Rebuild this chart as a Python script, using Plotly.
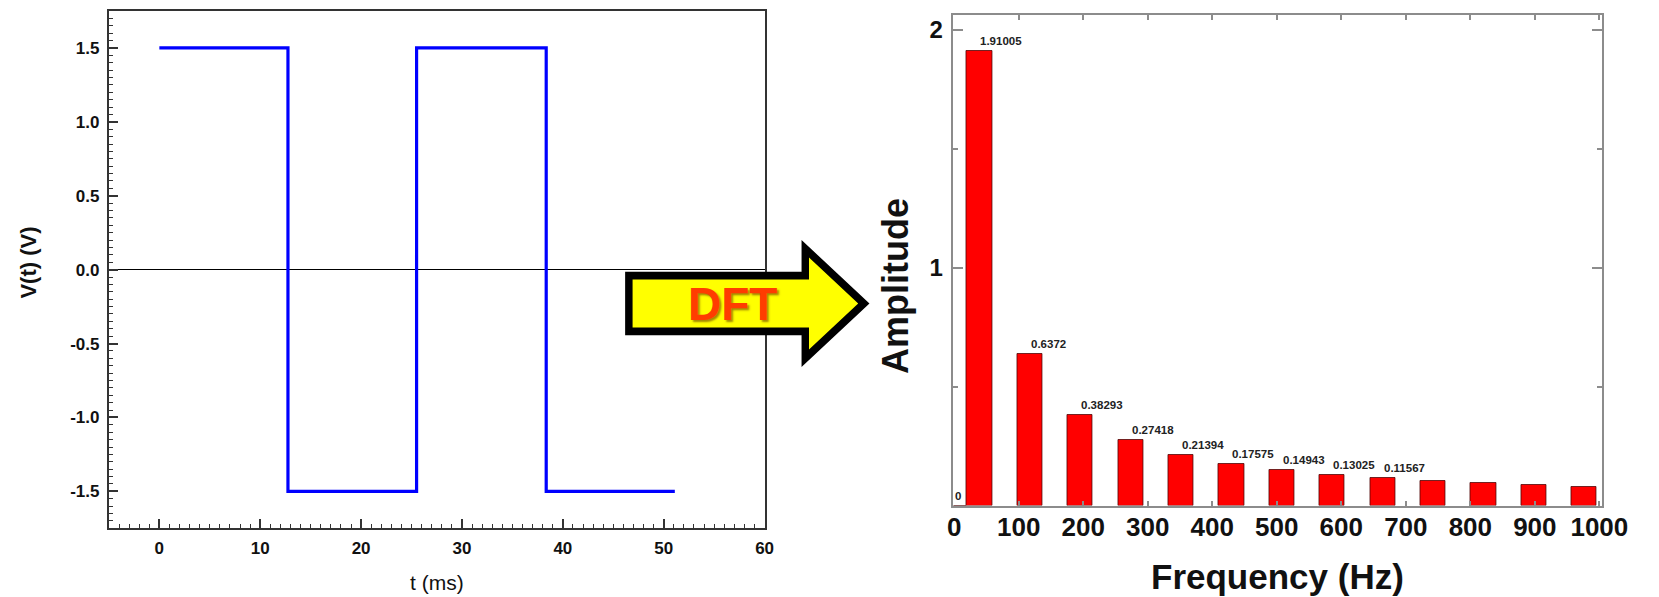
import plotly.graph_objects as go

W, H = 1659, 597

# ---------------- data: time-domain square wave ----------------
t_ms = [0, 12.75, 12.75, 25.5, 25.5, 38.35, 38.35, 51.1]
v_volts = [1.5, 1.5, -1.5, -1.5, 1.5, 1.5, -1.5, -1.5]
t_tickvals = [0, 10, 20, 30, 40, 50, 60]
v_tickvals = [-1.5, -1.0, -0.5, 0.0, 0.5, 1.0, 1.5]
v_ticktext = ["-1.5", "-1.0", "-0.5", "0.0", "0.5", "1.0", "1.5"]

# ---------------- data: DFT spectrum ----------------
freq_hz = [0, 39.06, 117.19, 195.31, 273.44, 351.56, 429.69, 507.81,
           585.94, 664.06, 742.19, 820.31, 898.44, 976.56]
amplitude = [0, 1.91005, 0.6372, 0.38293, 0.27418, 0.21394, 0.17575,
             0.14943, 0.13025, 0.11567, 0.104, 0.094, 0.087, 0.080]
amp_labels = ["0", "1.91005", "0.6372", "0.38293", "0.27418", "0.21394",
              "0.17575", "0.14943", "0.13025", "0.11567", "", "", "", ""]
bin_width_hz = 39.06
f_tickvals = [0, 100, 200, 300, 400, 500, 600, 700, 800, 900, 1000]
a_tickvals = [1, 2]


def px(x):
    return x / W


def py(y):
    return 1 - y / H


FONT = "Liberation Sans, Arial, sans-serif"

fig = go.Figure()

fig.add_trace(go.Scatter(
    x=t_ms, y=v_volts, mode="lines",
    line=dict(color="#0000FF", width=3.2),
    xaxis="x", yaxis="y", showlegend=False, hoverinfo="skip",
))

fig.add_trace(go.Bar(
    x=freq_hz, y=amplitude, width=bin_width_hz,
    marker=dict(color="#FF0000", line=dict(color="rgba(70,0,0,0.75)", width=1)),
    xaxis="x2", yaxis="y2", showlegend=False, hoverinfo="skip",
))

annotations = []
for f, a, lab in zip(freq_hz, amplitude, amp_labels):
    if lab:
        annotations.append(dict(
            x=f, y=a, xref="x2", yref="y2", text=lab, showarrow=False,
            xanchor="left", yanchor="bottom", yshift=2, xshift=-1,
            font=dict(family=FONT, size=11.5, color="#222222", weight="bold"),
        ))

# axis titles
annotations += [
    dict(x=px(439.5), y=py(582), xref="paper", yref="paper", text="t (ms)",
         showarrow=False, xanchor="center", yanchor="middle",
         font=dict(family=FONT, size=21, color="#111111")),
    dict(x=px(22), y=py(263), xref="paper", yref="paper", text="V(t) (V)",
         showarrow=False, xanchor="center", yanchor="middle", textangle=-90,
         font=dict(family=FONT, size=22, color="#111111", weight="bold")),
    dict(x=px(1297), y=py(576.5), xref="paper", yref="paper", text="Frequency (Hz)",
         showarrow=False, xanchor="center", yanchor="middle",
         font=dict(family=FONT, size=35, color="#111111", weight="bold")),
    dict(x=px(907), y=py(286), xref="paper", yref="paper", text="Amplitude",
         showarrow=False, xanchor="center", yanchor="middle", textangle=-90,
         font=dict(family=FONT, size=36, color="#111111", weight="bold")),
    dict(x=px(741), y=py(304), xref="paper", yref="paper", text="DFT",
         showarrow=False, xanchor="center", yanchor="middle",
         font=dict(family=FONT, size=46, color="#FF3C00", weight="bold",
                   shadow="2px 2px 2px rgba(90,40,0,0.55)")),
]


def path(points):
    s = "M " + " L ".join(f"{px(x):.5f},{py(y):.5f}" for x, y in points) + " Z"
    return s


outer = [(631.7, 271.7), (811.7, 271.7), (811.7, 240), (881, 303.5),
         (811.7, 367), (811.7, 335.3), (631.7, 335.3)]
inner = [(639.3, 279.5), (819.3, 279.5), (819.3, 257.5), (869.5, 303.5),
         (819.3, 349.5), (819.3, 327.5), (639.3, 327.5)]

shapes = [
    dict(type="path", xref="paper", yref="paper", path=path(outer),
         fillcolor="#000000", line=dict(width=0), layer="above"),
    dict(type="path", xref="paper", yref="paper", path=path(inner),
         fillcolor="#FFFF00", line=dict(width=0), layer="above"),
]

left_tickfont = dict(family=FONT, size=17, color="#111111", weight="bold")
right_tickfont_x = dict(family=FONT, size=26, color="#111111", weight="bold")
right_tickfont_y = dict(family=FONT, size=24, color="#111111", weight="bold")

fig.update_layout(
    width=W, height=H,
    margin=dict(l=0, r=0, t=0, b=0),
    paper_bgcolor="white", plot_bgcolor="white",
    showlegend=False,
    bargap=0,
    annotations=annotations,
    shapes=shapes,
    xaxis=dict(
        domain=[px(105), px(774)], range=[-5, 60], anchor="y",
        tickmode="array", tickvals=t_tickvals,
        ticks="inside", ticklen=9, tickwidth=1.5, tickcolor="#333333",
        minor=dict(dtick=1, tick0=0, ticks="inside", ticklen=4.5,
                   tickwidth=1.2, tickcolor="#333333"),
        showline=True, linecolor="#333333", linewidth=2, mirror=True,
        showgrid=False, zeroline=False, tickfont=left_tickfont,
        ticklabelstandoff=3,
    ),
    yaxis=dict(
        domain=[py(528.3), py(11)], range=[-1.75, 1.75], anchor="x",
        tickmode="array", tickvals=v_tickvals, ticktext=v_ticktext,
        ticks="inside", ticklen=9, tickwidth=1.5, tickcolor="#333333",
        minor=dict(dtick=0.05, tick0=0, ticks="inside", ticklen=4.5,
                   tickwidth=1.2, tickcolor="#333333"),
        showline=True, linecolor="#333333", linewidth=2, mirror=True,
        showgrid=False, zeroline=True, zerolinecolor="#000000", zerolinewidth=1,
        tickfont=left_tickfont, ticklabelstandoff=4,
    ),
    xaxis2=dict(
        domain=[px(966.7), px(1628)], range=[-1.2, 1003.5], anchor="y2",
        tickmode="array", tickvals=f_tickvals,
        ticks="inside", ticklen=5, tickwidth=1.5, tickcolor="#8c8c8c",
        showline=True, linecolor="#8c8c8c", linewidth=1.6, mirror="ticks",
        showgrid=False, zeroline=False, tickfont=right_tickfont_x,
        ticklabelstandoff=-3,
    ),
    yaxis2=dict(
        domain=[py(505.6), py(15)], range=[0, 2.063], anchor="x2",
        tickmode="array", tickvals=a_tickvals,
        ticks="inside", ticklen=10, tickwidth=1.5, tickcolor="#8c8c8c",
        minor=dict(dtick=0.5, tick0=0, ticks="inside", ticklen=5,
                   tickwidth=1.5, tickcolor="#8c8c8c"),
        showline=True, linecolor="#8c8c8c", linewidth=1.6, mirror="ticks",
        showgrid=False, zeroline=False, tickfont=right_tickfont_y,
        ticklabelstandoff=4,
    ),
)

fig.write_html(
    "out.html",
    config={"displayModeBar": False},
    post_script="document.body.style.margin='0';document.body.style.overflow='hidden';",
)
